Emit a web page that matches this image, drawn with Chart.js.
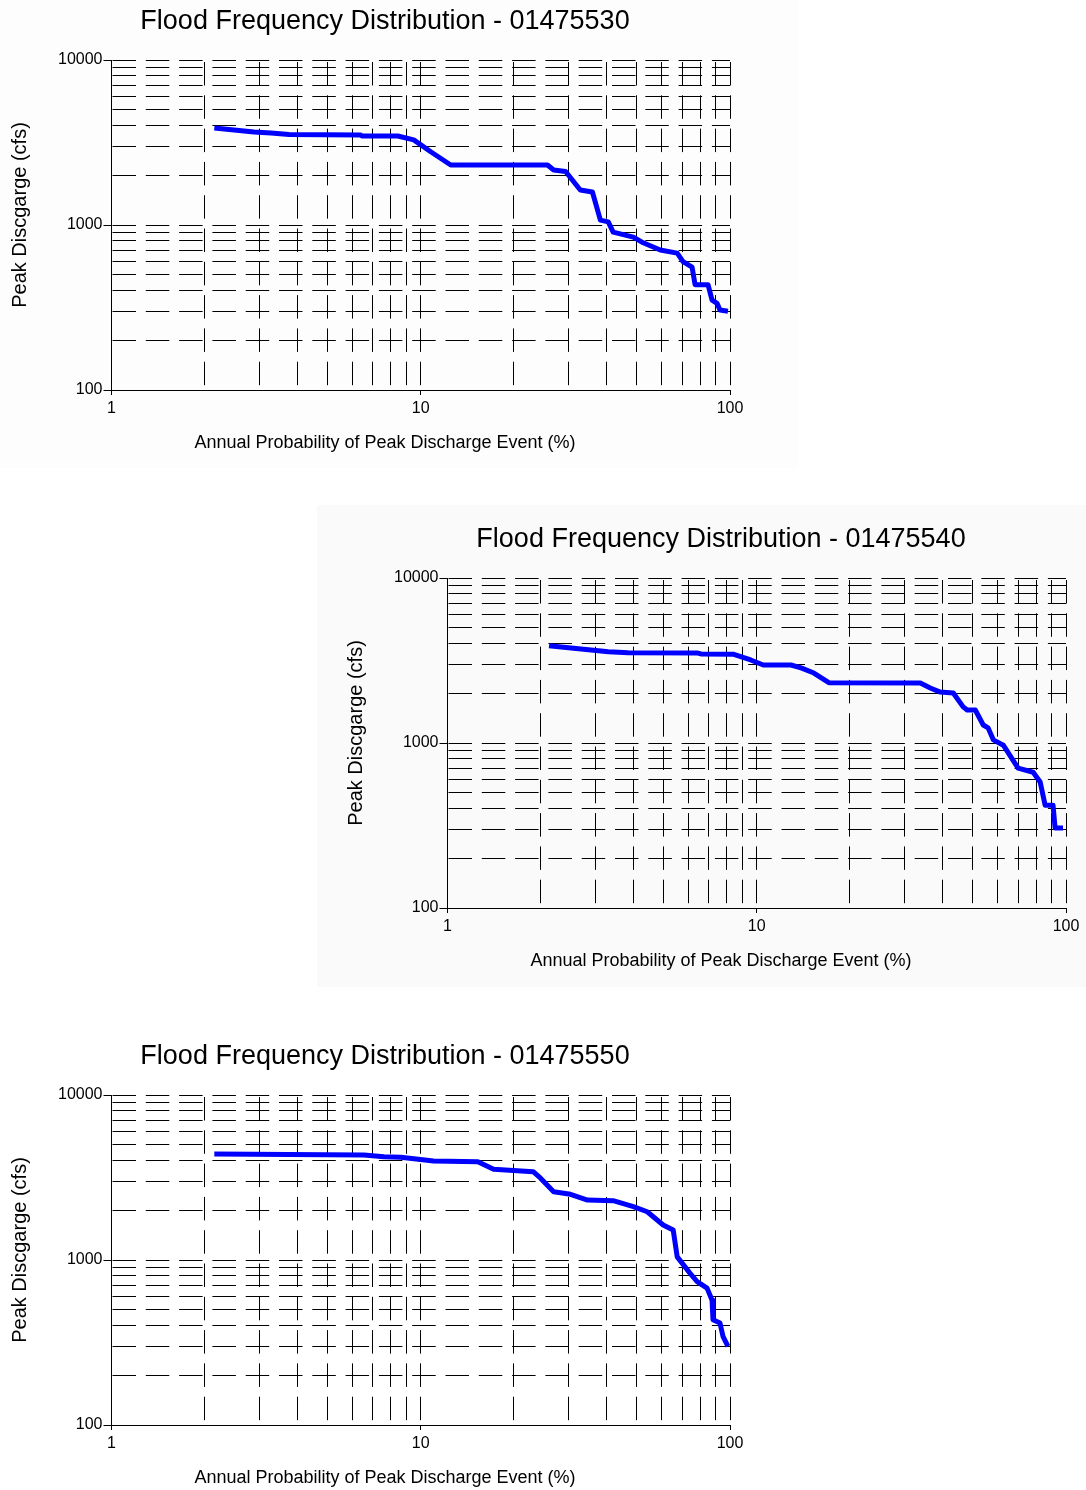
<!DOCTYPE html>
<html>
<head>
<meta charset="utf-8">
<script src="https://cdn.jsdelivr.net/npm/chart.js"></script>
<style>
  html, body { margin: 0; padding: 0; background: #fff; overflow: hidden; }
  #page { position: relative; width: 1086px; height: 1490px; overflow: hidden; }
  .panel { position: absolute; }
  canvas { position: absolute; }
</style>
</head>
<body>
<div id="page">
  <div class="panel" style="left:0;top:0;width:798px;height:468px;background:#fdfdfd"></div>
  <div class="panel" style="left:317px;top:505px;width:769px;height:482px;background:#fafafa"></div>
  <canvas id="flood1" width="770" height="470" style="left:0;top:0"></canvas>
  <canvas id="flood2" width="770" height="470" style="left:336px;top:518px"></canvas>
  <canvas id="flood3" width="770" height="470" style="left:0;top:1035px"></canvas>
</div>
<script>
// grid / tick positions of the two log axes
const probTicks = [1, 2, 3, 4, 5, 6, 7, 8, 9, 10, 20, 30, 40, 50, 60, 70, 80, 90, 100];
const flowTicks = [100, 200, 300, 400, 500, 600, 700, 800, 900,
                   1000, 2000, 3000, 4000, 5000, 6000, 7000, 8000, 9000, 10000];

// station 01475530  (annual probability %, peak discharge cfs)
const prob530 = [2.15, 2.49, 2.89, 3.28, 3.75, 6.40, 6.45, 8.43, 9.49, 10.8, 12.5, 25.7, 26.9, 29.4,
                 32.8, 35.9, 38.1, 40.4, 41.9, 48.7, 52.4, 59.5, 67.5, 70.5, 75.4, 77.1, 84.9, 87.5,
                 90.8, 92.8, 98.5];
const flow530 = [3870, 3765, 3660, 3610, 3540, 3510, 3465, 3465, 3280, 2770, 2310, 2310, 2155, 2110,
                 1630, 1585, 1070, 1045, 905, 845, 780, 705, 675, 600, 555, 435, 435, 350,
                 335, 305, 300];

// station 01475540
const prob540 = [2.13, 2.51, 2.91, 3.31, 3.84, 6.45, 6.60, 8.43, 9.56, 10.5, 12.9, 13.9, 15.3, 17.1,
                 33.8, 36.4, 39.2, 43.2, 46.5, 47.9, 50.9, 54.0, 56.0, 58.2, 62.7, 70.0, 78.3, 82.5,
                 85.6, 90.8, 92.2, 97.8];
const flow540 = [3890, 3765, 3660, 3575, 3525, 3510, 3465, 3450, 3185, 2970, 2970, 2850, 2655, 2320,
                 2310, 2155, 2035, 2010, 1655, 1585, 1585, 1285, 1235, 1045, 970, 705, 665, 580,
                 420, 420, 305, 305];

// station 01475550
const prob550 = [2.15, 6.55, 7.60, 8.62, 11.0, 15.3, 17.2, 23.1, 24.4, 26.9, 30.5, 34.6, 41.9, 48.7,
                 54.0, 60.8, 65.5, 67.5, 74.3, 78.3, 84.3, 87.5, 88.1, 92.8, 94.9, 98.5];
const flow550 = [4390, 4330, 4230, 4195, 3980, 3945, 3545, 3430, 3130, 2595, 2500, 2310, 2290, 2105,
                 1960, 1630, 1520, 1045, 830, 740, 675, 570, 435, 415, 345, 300];

const FONT = '"Liberation Sans", Arial, sans-serif';
Chart.defaults.font.family = FONT;
Chart.defaults.color = '#000';

function isDecade(v) {
    const l = Math.log10(v);
    return Math.abs(l - Math.round(l)) < 1e-9;
}

// rotated y axis caption
const yCaption = {
    id: 'yCaption',
    afterDraw(chart) {
        const c = chart.ctx;
        c.save();
        c.translate(20, 215);
        c.rotate(-Math.PI / 2);
        c.font = '20px ' + FONT;
        c.fillStyle = '#000';
        c.textAlign = 'center';
        c.textBaseline = 'middle';
        c.fillText('Peak Discgarge (cfs)', 0, 0);
        c.restore();
    }
};

function floodChart(id, station, probs, flows) {
    const ctx = document.getElementById(id).getContext('2d');
    return new Chart(ctx, {
        type: 'line',
        data: {
            datasets: [{
                data: probs.map((p, i) => ({ x: p, y: flows[i] })),
                borderColor: '#0000ff',
                borderWidth: 5,
                pointRadius: 0,
                tension: 0,
                fill: false,
                borderJoinStyle: 'round'
            }]
        },
        options: {
            responsive: false,
            animation: false,
            // symmetric padding keeps the titles centred on the canvas (x = 385)
            layout: { padding: { left: 40, right: 40, top: 0, bottom: 0 } },
            plugins: {
                legend: { display: false },
                tooltip: { enabled: false },
                title: {
                    display: true,
                    text: 'Flood Frequency Distribution - ' + station,
                    color: '#000',
                    font: { size: 27, weight: 'normal', lineHeight: 1.2 },
                    padding: { top: 5, bottom: 22.6 }
                },
                subtitle: {
                    display: true,
                    position: 'bottom',
                    text: 'Annual Probability of Peak Discharge Event (%)',
                    color: '#000',
                    font: { size: 18, lineHeight: 20 / 18 },
                    padding: { top: 0, bottom: 17 }
                }
            },
            scales: {
                x: {
                    type: 'logarithmic',
                    min: 1,
                    max: 100,
                    afterBuildTicks: s => { s.ticks = probTicks.map(v => ({ value: v })); },
                    afterFit: s => { s.height = 43; },
                    ticks: {
                        autoSkip: false,
                        maxRotation: 0,
                        padding: 4,
                        color: '#000',
                        font: { size: 16 },
                        callback: v => isDecade(v) ? String(v) : ''
                    },
                    grid: {
                        color: '#000',
                        lineWidth: 1,
                        tickLength: 5,
                        tickColor: c => isDecade(c.tick.value) ? '#000' : 'rgba(0,0,0,0)'
                    },
                    border: { display: true, color: '#000', width: 1, dash: [23.5, 9.8], dashOffset: -2 }
                },
                y: {
                    type: 'logarithmic',
                    min: 100,
                    max: 10000,
                    afterBuildTicks: s => { s.ticks = flowTicks.map(v => ({ value: v })); },
                    afterFit: s => { s.width = 71.5; },
                    ticks: {
                        autoSkip: false,
                        padding: 1,
                        color: '#000',
                        font: { size: 16 },
                        callback: v => isDecade(v) ? String(v) : ''
                    },
                    grid: {
                        color: '#000',
                        lineWidth: 1,
                        tickLength: 8,
                        tickColor: c => isDecade(c.tick.value) ? '#000' : 'rgba(0,0,0,0)'
                    },
                    border: { display: true, color: '#000', width: 1, dash: [23.5, 9.8], dashOffset: -0.5 }
                }
            }
        },
        plugins: [yCaption]
    });
}

floodChart('flood1', '01475530', prob530, flow530);
floodChart('flood2', '01475540', prob540, flow540);
floodChart('flood3', '01475550', prob550, flow550);
</script>
</body>
</html>
